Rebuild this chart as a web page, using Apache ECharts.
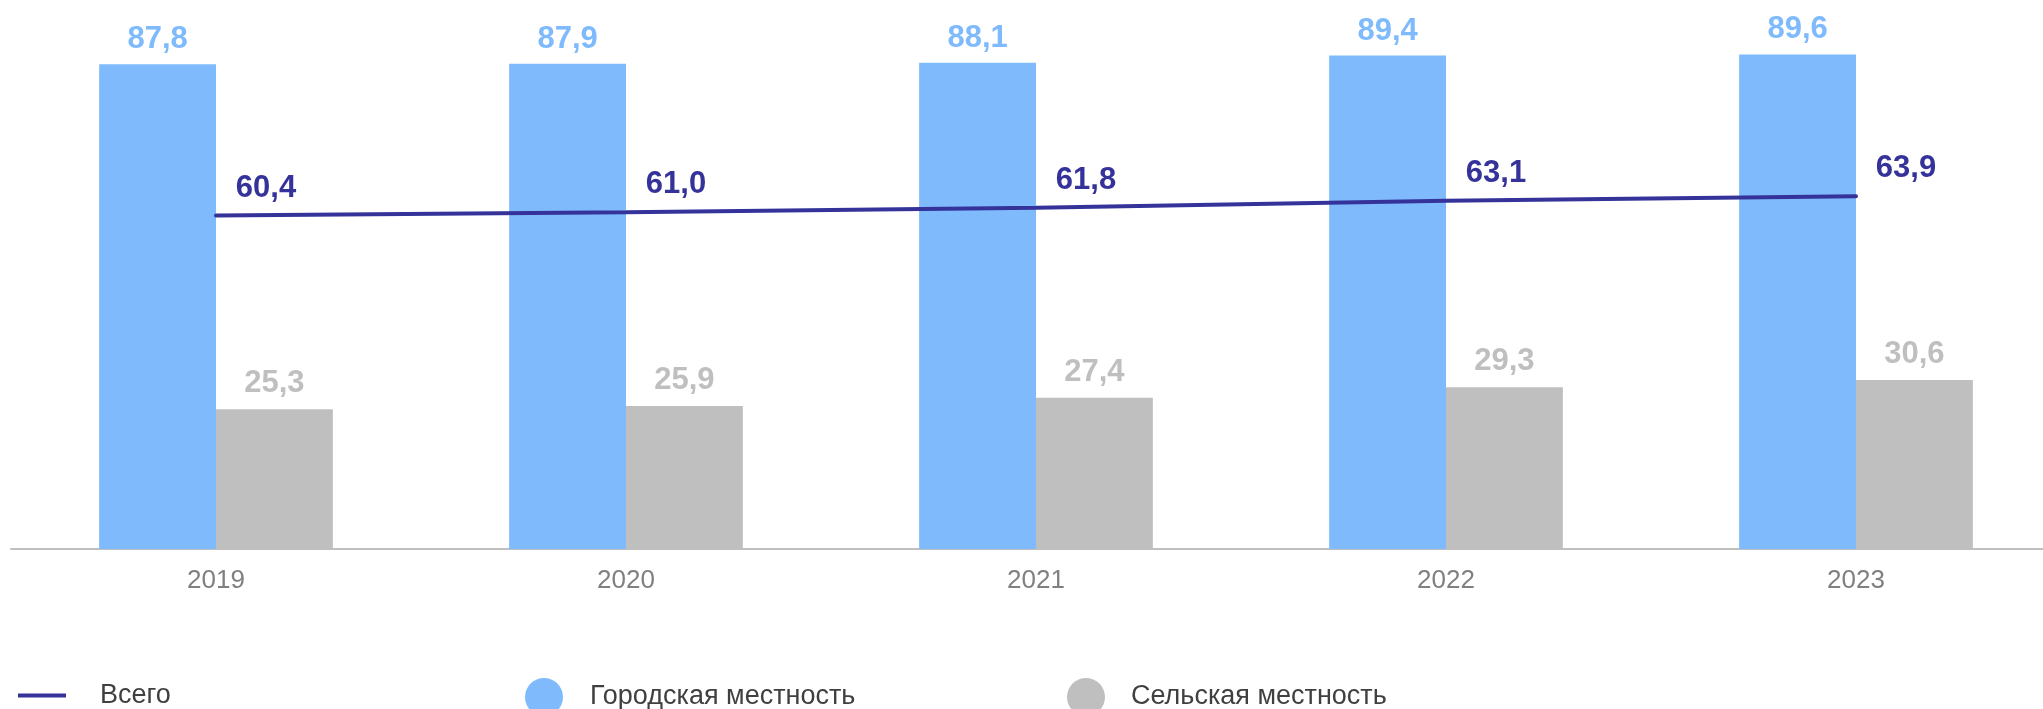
<!DOCTYPE html>
<html>
<head>
<meta charset="utf-8">
<script src="https://cdn.jsdelivr.net/npm/echarts@6/dist/echarts.min.js"></script>
<style>
  html, body { margin: 0; padding: 0; background: #fff; }
  #chart { width: 2043px; height: 709px; }
</style>
</head>
<body>
<div id="chart"></div>
<script>
const years = ['2019', '2020', '2021', '2022', '2023'];
const total = [60.4, 61.0, 61.8, 63.1, 63.9];
const urban = [87.8, 87.9, 88.1, 89.4, 89.6];
const rural = [25.3, 25.9, 27.4, 29.3, 30.6];

const BLUE = '#7fbafc';
const GREY = '#bfbfbf';
const NAVY = '#35339a';
const FONT = 'Liberation Sans';

// 87,8 instead of 87.8
const fmt = p => p.value.toFixed(1).replace('.', ',');

const legendText = { fontFamily: FONT, fontSize: 27, color: '#404040' };

let chart = echarts.init(document.getElementById('chart'));
chart.setOption({
  animation: false,
  textStyle: { fontFamily: FONT },
  grid: { left: 11, width: 2050, top: -3, bottom: 160, outerBoundsMode: 'none' },
  legend: [
    {
      left: 13, top: 677,
      itemWidth: 48, itemHeight: 4,
      data: [{ name: 'Всего', icon: 'rect' }],
      textStyle: Object.assign({ padding: [0, 0, 0, 29] }, legendText)
    },
    {
      left: 520, top: 673,
      itemWidth: 38, itemHeight: 38,
      data: [{ name: 'Городская местность', icon: 'circle' }],
      textStyle: Object.assign({ padding: [0, 0, 0, 22] }, legendText)
    },
    {
      left: 1062, top: 673,
      itemWidth: 38, itemHeight: 38,
      data: [{ name: 'Сельская местность', icon: 'circle' }],
      textStyle: Object.assign({ padding: [0, 0, 0, 21] }, legendText)
    }
  ],
  xAxis: {
    type: 'category',
    data: years,
    axisLine: { lineStyle: { color: GREY, width: 2 } },
    axisTick: { show: false },
    axisLabel: { color: '#808080', fontFamily: FONT, fontSize: 26, margin: 19 }
  },
  yAxis: {
    type: 'value',
    min: 0,
    max: 100,
    show: false,
    splitLine: { show: false }
  },
  series: [
    {
      name: 'Городская местность',
      type: 'bar',
      data: urban,
      barGap: '0%',
      barCategoryGap: '43%',
      itemStyle: { color: BLUE },
      label: {
        show: true, position: 'top', distance: 9,
        color: BLUE, fontFamily: FONT, fontSize: 31, fontWeight: 'bold', formatter: fmt
      }
    },
    {
      name: 'Сельская местность',
      type: 'bar',
      data: rural,
      itemStyle: { color: GREY },
      label: {
        show: true, position: 'top', distance: 10,
        color: GREY, fontFamily: FONT, fontSize: 31, fontWeight: 'bold', formatter: fmt
      }
    },
    {
      name: 'Всего',
      type: 'line',
      data: total,
      z: 5,
      showSymbol: true,
      symbol: 'circle',
      symbolSize: 2,
      itemStyle: { color: NAVY },
      lineStyle: { color: NAVY, width: 4, cap: 'round' },
      label: {
        show: true, position: 'top', distance: 11, offset: [50, 0],
        color: NAVY, fontFamily: FONT, fontSize: 31, fontWeight: 'bold', formatter: fmt
      }
    }
  ]
});
</script>
</body>
</html>
